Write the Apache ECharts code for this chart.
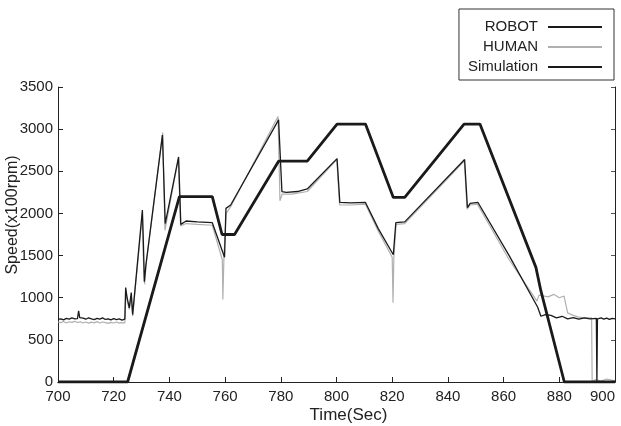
<!DOCTYPE html>
<html>
<head>
<meta charset="utf-8">
<script src="https://cdn.jsdelivr.net/npm/echarts@6/dist/echarts.min.js"></script>
<style>
  html, body { margin: 0; padding: 0; background: #fff; }
  #speed { width: 621px; height: 426px; }
</style>
</head>
<body>
<div id="speed"></div>
<script>
// time (sec), speed (x100 rpm)
var robot = [
    [700, 742], [701, 750], [702, 738], [703, 755], [704, 745], [705, 760], [706, 748], [707, 752],
    [707.4, 845], [707.8, 765], [709, 758], [710, 745], [711, 762], [712, 750], [713, 740], [714, 755],
    [715, 745], [716, 760], [717, 742], [718, 750], [719, 738], [720, 752], [721, 740], [722, 748],
    [723, 735], [724, 745], [724.3, 1120], [724.8, 1000], [725.6, 880], [726.3, 1060], [726.8, 800],
    [727.2, 790], [730.3, 2040], [730.7, 1600], [731.0, 1190], [731.6, 1400], [737.5, 2930],
    [738.5, 1880], [743.3, 2670], [744.1, 1870], [746, 1910], [750, 1900], [755.4, 1890],
    [759.8, 1480], [760.3, 2060], [762, 2100], [779.2, 3110], [780.4, 2260], [782, 2250],
    [786, 2260], [789.5, 2290], [800.2, 2650], [801.2, 2130], [805, 2125], [810.4, 2130],
    [815, 1820], [820.4, 1510], [821.3, 1890], [824.5, 1900], [846, 2640], [847, 2070],
    [848, 2120], [850.8, 2130], [862, 1500], [872.2, 890], [873.4, 780], [875, 800], [877, 790],
    [879, 760], [881, 780], [883, 750], [885, 765], [887, 745], [889, 760], [891, 748],
    [893.3, 755], [893.5, 0], [893.7, 750], [895, 760], [896, 745], [897, 758], [898, 742],
    [899, 755], [900, 750]
];
var human = [
    [700, 712], [701, 705], [702, 718], [703, 700], [704, 715], [705, 708], [706, 720], [707, 705],
    [708, 715], [709, 700], [710, 712], [711, 698], [712, 710], [713, 702], [714, 716], [715, 700],
    [716, 712], [717, 705], [718, 695], [719, 708], [720, 700], [721, 712], [722, 698], [723, 705],
    [724, 700], [724.4, 1080], [724.9, 960], [725.6, 860], [726.3, 1020], [726.8, 780],
    [727.3, 770], [730.3, 2000], [730.6, 1500], [731.1, 1160], [731.6, 1380], [737.6, 2960],
    [738.4, 1800], [743.2, 2650], [744, 1850], [746, 1880], [750, 1870], [755.4, 1860],
    [759, 1450], [759.2, 980], [759.6, 1500], [760.4, 2000], [762, 2080], [779, 3150],
    [779.7, 2150], [780.5, 2230], [784, 2230], [789.5, 2260], [800.1, 2640], [801.1, 2100],
    [805, 2100], [810.4, 2110], [815, 1790], [820, 1480], [820.3, 940], [820.6, 1480],
    [821.4, 1870], [824.5, 1880], [845.9, 2620], [846.9, 2050], [848, 2100], [850.6, 2110],
    [862, 1450], [872, 960], [872.7, 1030], [876, 1010], [878, 1040], [880, 1000], [881.7, 1020],
    [883, 820], [885, 790], [887, 770], [889, 760], [891.6, 760], [891.8, 0], [893, 30],
    [895, 10], [897, 35], [900, 15]
];
var simulation = [
    [700, 0], [725, 0], [743.6, 2200], [755.4, 2200], [758.9, 1750], [763.4, 1750],
    [779.2, 2620], [789.5, 2620], [800.2, 3060], [810.4, 3060], [820.4, 2190], [824.5, 2190],
    [845.8, 3060], [851.5, 3060], [871.6, 1360], [873.4, 1080], [881.8, 0], [900, 0]
];
var seriesNames = ['ROBOT', 'HUMAN', 'Simulation'];

var font = '"Liberation Sans", Arial, sans-serif';
var plain = function (v) { return String(v); };
var myChart = echarts.init(document.getElementById('speed'));
option = {
    animation: false,
    backgroundColor: '#fff',
    textStyle: { fontFamily: font, color: '#222' },
    legend: {
        orient: 'vertical',
        right: 7,
        top: 9,
        align: 'right',
        borderColor: '#333',
        borderWidth: 1,
        padding: [10, 11, 5, 9],
        itemWidth: 54,
        itemHeight: 10,
        itemGap: 4,
        itemStyle: { opacity: 0, borderWidth: 0 },
        textStyle: {
            fontFamily: font,
            fontSize: 15,
            color: '#222',
            lineHeight: 16,
            width: 68,
            align: 'right',
            padding: [0, 5, 0, 0]
        },
        data: seriesNames
    },
    grid: { left: 58, right: 6, top: 87, bottom: 44, outerBoundsMode: 'none' },
    xAxis: [
        {
            type: 'value',
            min: 700,
            max: 900,
            interval: 20,
            name: 'Time(Sec)',
            nameLocation: 'middle',
            nameGap: 25,
            nameMoveOverlap: false,
            nameTextStyle: { fontFamily: font, fontSize: 17, color: '#222', padding: [0, 0, 0, 24] },
            axisLine: { lineStyle: { color: '#222', width: 1 } },
            axisTick: { inside: true, length: 5, lineStyle: { color: '#222' } },
            axisLabel: {
                fontFamily: font, fontSize: 15, color: '#222', margin: 7,
                formatter: plain, alignMaxLabel: 'right'
            },
            splitLine: { show: false }
        },
        {
            type: 'value',
            position: 'top',
            min: 700,
            max: 900,
            interval: 20,
            axisLine: { show: true, lineStyle: { color: '#222', width: 1 } },
            axisTick: { show: false },
            axisLabel: { show: false },
            splitLine: { show: false }
        }
    ],
    yAxis: [
        {
            type: 'value',
            min: 0,
            max: 3500,
            interval: 500,
            name: 'Speed(x100rpm)',
            nameLocation: 'middle',
            nameGap: 37,
            nameMoveOverlap: false,
            nameTextStyle: { fontFamily: font, fontSize: 16, color: '#222', padding: [0, 0, 0, 39] },
            axisLine: { show: true, lineStyle: { color: '#222', width: 1 } },
            axisTick: { show: true, inside: true, length: 5, lineStyle: { color: '#222' } },
            axisLabel: { fontFamily: font, fontSize: 15, color: '#222', margin: 5, formatter: plain },
            splitLine: { show: false }
        },
        {
            type: 'value',
            position: 'right',
            min: 0,
            max: 3500,
            interval: 500,
            axisLine: { show: true, lineStyle: { color: '#222', width: 1 } },
            axisTick: { show: true, inside: true, length: 4, lineStyle: { color: '#555' } },
            axisLabel: { show: false },
            splitLine: { show: false }
        }
    ],
    series: [
        {
            name: 'HUMAN',
            type: 'line',
            data: human,
            symbol: 'none',
            z: 2,
            lineStyle: { color: '#b0b0b0', width: 1.2 },
            itemStyle: { color: '#b0b0b0' }
        },
        {
            name: 'ROBOT',
            type: 'line',
            data: robot,
            symbol: 'none',
            z: 3,
            lineStyle: { color: '#1a1a1a', width: 1.3 },
            itemStyle: { color: '#1a1a1a' }
        },
        {
            name: 'Simulation',
            type: 'line',
            data: simulation,
            symbol: 'none',
            z: 4,
            lineStyle: { color: '#1a1a1a', width: 2.8 },
            itemStyle: { color: '#1a1a1a' }
        }
    ]
};
myChart.setOption(option);
</script>
</body>
</html>
